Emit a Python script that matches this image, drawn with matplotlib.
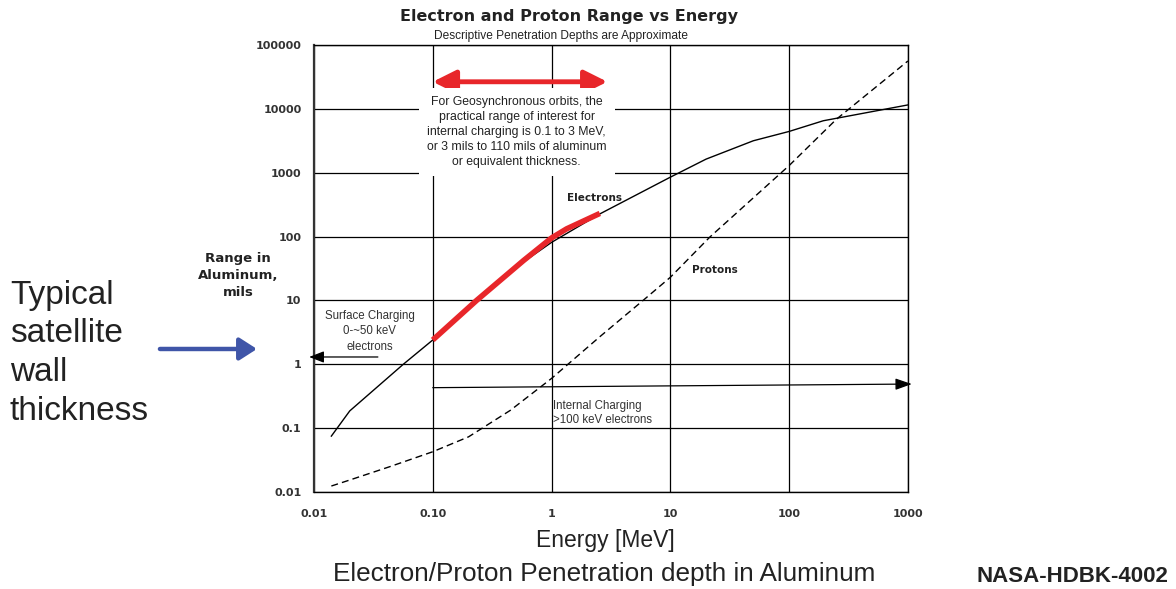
import matplotlib
matplotlib.use("Agg")
import matplotlib.pyplot as plt

# --- data (energy in MeV, range in mils of aluminum) ---
electron_energy = [0.014, 0.02, 0.0565, 0.1, 0.234, 0.58, 1.0, 2.55, 10, 20, 50, 100, 194, 1000]
electron_range = [0.075, 0.186, 1.0, 2.4, 10, 40, 81, 226, 850, 1630, 3160, 4420, 6500, 11500]

# highlighted part of the electron curve (0.1 - 3 MeV)
geo_energy = [0.1, 0.234, 0.58, 1.0, 1.34, 2.55]
geo_range = [2.4, 10, 42, 95, 132, 230]

proton_energy = [0.014, 0.02, 0.0437, 0.1, 0.2, 0.45, 1.0, 2.55, 5.9, 10, 21.5, 100, 251, 1000]
proton_range = [0.0124, 0.0154, 0.025, 0.0427, 0.073, 0.19, 0.6, 2.7, 10, 23, 98, 1290, 6900, 56000]

x_ticks = [0.01, 0.1, 1, 10, 100, 1000]
x_labels = ["0.01", "0.10", "1", "10", "100", "1000"]
y_ticks = [0.01, 0.1, 1, 10, 100, 1000, 10000, 100000]
y_labels = ["0.01", "0.1", "1", "10", "100", "1000", "10000", "100000"]

ARIAL = ["Liberation Sans", "DejaVu Sans"]
WIDE = ["DejaVu Sans"]

fig = plt.figure(figsize=(11.76, 5.89), dpi=100)
ax = fig.add_axes([0.267, 0.1647, 0.505, 0.759])

ax.set_xscale("log")
ax.set_yscale("log")
ax.set_xlim(0.01, 1000)
ax.set_ylim(0.01, 100000)

ax.set_xticks(x_ticks)
ax.set_xticklabels(x_labels)
ax.set_yticks(y_ticks)
ax.set_yticklabels(y_labels)
ax.minorticks_off()
ax.tick_params(length=0, labelsize=8, labelcolor="#333333")
ax.tick_params(axis="x", pad=12)
ax.tick_params(axis="y", pad=9)
for lab in ax.get_xticklabels() + ax.get_yticklabels():
    lab.set_fontweight("bold")
    lab.set_family(WIDE)
ax.grid(True, color="black", linewidth=0.9)
for sp in ax.spines.values():
    sp.set_color("black")
    sp.set_linewidth(1.0)
ax.spines["left"].set_linewidth(1.6)
ax.spines["left"].set_color("#333333")

# curves
ax.plot(electron_energy, electron_range, color="black", linewidth=1.0)
ax.plot(proton_energy, proton_range, color="black", linewidth=1.0, linestyle=(0, (5, 3)))
ax.plot(geo_energy, geo_range, color="#e8262a", linewidth=4, solid_capstyle="butt")

# red double arrow for the GEO range of interest
ax.annotate("", xy=(2.95, 26500), xytext=(0.1, 26500),
            arrowprops=dict(arrowstyle="<|-|>,head_length=1.4,head_width=0.7",
                            color="#e8262a", lw=3.5, shrinkA=0, shrinkB=0))

ax.text(0.51, 4300, "For Geosynchronous orbits, the\npractical range of interest for\n"
        "internal charging is 0.1 to 3 MeV,\nor 3 mils to 110 mils of aluminum\n"
        "or equivalent thickness.",
        ha="center", va="center", fontsize=8.8, family=ARIAL, color="#222222",
        linespacing=1.32,
        bbox=dict(facecolor="white", edgecolor="none", pad=6))

ax.text(2.3, 407, "Electrons", fontsize=7.5, fontweight="bold", family=WIDE,
        color="#222222", ha="center", va="center")
ax.text(23.7, 30, "Protons", fontsize=7.5, fontweight="bold", family=WIDE,
        color="#222222", ha="center", va="center")

# surface charging arrow (points left, past the axis)
ax.annotate("", xy=(0.0091, 1.3), xytext=(0.0345, 1.3), annotation_clip=False,
            arrowprops=dict(arrowstyle="-|>,head_length=0.9,head_width=0.35",
                            color="black", lw=0.9, shrinkA=0, shrinkB=0))
ax.text(0.0295, 3.3, "Surface Charging\n0-~50 keV\nelectrons", ha="center", va="center",
        fontsize=8.3, family=ARIAL, color="#333333", linespacing=1.4)

# internal charging arrow (points right, past the axis)
ax.annotate("", xy=(1080, 0.49), xytext=(0.1, 0.43), annotation_clip=False,
            arrowprops=dict(arrowstyle="-|>,head_length=1.0,head_width=0.35",
                            color="black", lw=0.9, shrinkA=0, shrinkB=0))
ax.text(1.02, 0.172, "Internal Charging\n>100 keV electrons", ha="left", va="center",
        fontsize=8.3, family=ARIAL, color="#333333", linespacing=1.3)

# y axis label placed left of tick labels
fig.text(0.2025, 0.533, "Range in\nAluminum,\nmils", ha="center", va="center",
         fontsize=9.5, fontweight="bold", family=WIDE, color="#222222", linespacing=1.4)

# titles
fig.text(0.484, 0.972, "Electron and Proton Range vs Energy", ha="center", va="center",
         fontsize=11.5, fontweight="bold", family=WIDE, color="#222222")
fig.text(0.477, 0.939, "Descriptive Penetration Depths are Approximate", ha="center",
         va="center", fontsize=8.6, family=ARIAL, color="#222222")

fig.text(0.5145, 0.083, "Energy [MeV]", ha="center", va="center", fontsize=16.5,
         family=ARIAL, color="#222222")
fig.text(0.5135, 0.026, "Electron/Proton Penetration depth in Aluminum", ha="center",
         va="center", fontsize=18.8, family=ARIAL, color="#222222")
fig.text(0.9116, 0.021, "NASA-HDBK-4002", ha="center", va="center", fontsize=16,
         fontweight="bold", family=ARIAL, color="#222222")

# left-hand callout
fig.text(0.0085, 0.400, "Typical\nsatellite\nwall\nthickness", ha="left", va="center",
         fontsize=24, family=ARIAL, color="#222222", linespacing=1.33)
fig.patches.append(matplotlib.patches.FancyArrowPatch(
    (0.136, 0.4075), (0.2185, 0.4075), transform=fig.transFigure,
    arrowstyle="-|>,head_length=7,head_width=4.5", mutation_scale=1.5,
    color="#3f55a8", lw=3.2, shrinkA=0, shrinkB=0))

fig.savefig("out.png", dpi=100)
